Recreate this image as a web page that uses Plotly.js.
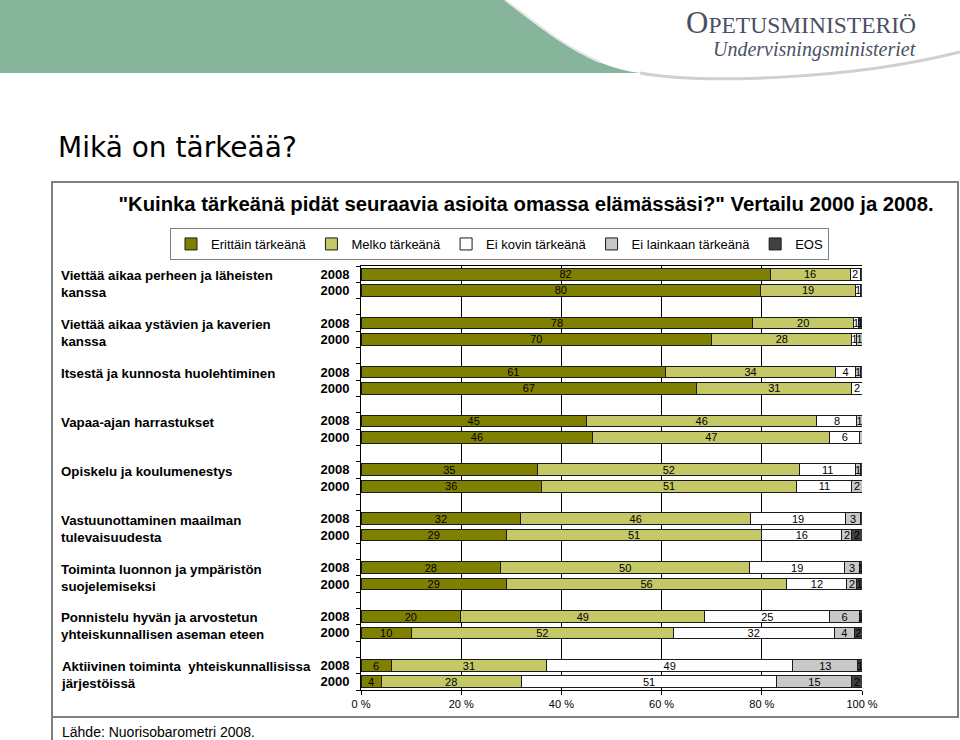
<!DOCTYPE html>
<html>
<head>
<meta charset="utf-8">
<script src="https://cdn.plot.ly/plotly-3.0.1.min.js"></script>
<style>
html,body{margin:0;padding:0;background:#fff;}
#chart{width:960px;height:740px;}
</style>
</head>
<body>
<div id="chart"></div>
<script>
// ---- Data ----
const categories = [
  "Viettää aikaa perheen ja läheisten<br>kanssa",
  "Viettää aikaa ystävien ja kaverien<br>kanssa",
  "Itsestä ja kunnosta huolehtiminen",
  "Vapaa-ajan harrastukset",
  "Opiskelu ja koulumenestys",
  "Vastuunottaminen maailman<br>tulevaisuudesta",
  "Toiminta luonnon ja ympäristön<br>suojelemiseksi",
  "Ponnistelu hyvän ja arvostetun<br>yhteiskunnallisen aseman eteen",
  "Aktiivinen toiminta  yhteiskunnallisissa<br>järjestöissä"
];
const years = ["2008", "2000"];
const seriesNames = ["Erittäin tärkeänä", "Melko tärkeänä", "Ei kovin tärkeänä", "Ei lainkaan tärkeänä", "EOS"];
// values per bar: category order, 2008 then 2000
const erittain   = [82,80, 78,70, 61,67, 45,46, 35,36, 32,29, 28,29, 20,10, 6,4];
const melko      = [16,19, 20,28, 34,31, 46,47, 52,51, 46,51, 50,56, 49,52, 31,28];
const eiKovin    = [2,1, 1,1, 4,2, 8,6, 11,11, 19,16, 19,12, 25,32, 49,51];
const eiLainkaan = [0,0, 0,1, 1,0, 1,0.4, 1,2, 3,2, 3,2, 6,4, 13,15];
const eos        = [0.4,0.3, 0.7,0, 0.3,0, 0,0, 0.3,0, 0.3,2, 0.5,1, 0.5,1.5, 0.8,2];
const xTicks = [0,20,40,60,80,100];
const xTickText = ["0 %","20 %","40 %","60 %","80 %","100 %"];

// ---- Styles ----
const colors = ["#808000", "#c4c866", "#ffffff", "#c8c8c8", "#404040"];
const FONT = "Liberation Sans, Arial, sans-serif";

// bar positions derived from category/year index
const yPos = [], yLabels = [];
categories.forEach((c, g) => years.forEach((yr, i) => { yPos.push(g*3 + i); yLabels.push(yr); }));

const allSeries = [erittain, melko, eiKovin, eiLainkaan, eos];
const traces = allSeries.map((vals, k) => ({
  type: "bar",
  orientation: "h",
  name: seriesNames[k],
  x: vals,
  y: yPos,
  width: 0.72,
  marker: {color: colors[k], line: {color: "#1a1a1a", width: 1}},
  text: vals.map(v => v >= 0.5 ? String(Math.round(v)) : ""),
  textposition: "inside",
  insidetextanchor: "middle",
  constraintext: "none",
  textangle: 0,
  textfont: {family: FONT, size: 11, color: "#000"},
  hoverinfo: "skip"
}));

// pixel helpers for decorative layout pieces (plot area: l=361, t=266, w=501, h=424)
const L = 361, T = 266, W = 501, H = 424;
const px = x => (x - L) / W;
const py = y => (T + H - y) / H;

const annotations = [];
categories.forEach((c, g) => {
  annotations.push({
    xref: "paper", yref: "y", x: px(59), y: g*3 - 0.5,
    xanchor: "left", yanchor: "top", align: "left",
    text: c, showarrow: false,
    font: {family: FONT, size: 13.3, color: "#000", weight: "bold"}
  });
});
annotations.push({
  xref: "paper", yref: "paper", x: px(56), y: py(148), xanchor: "left", yanchor: "middle",
  text: "Mikä on tärkeää?", showarrow: false,
  font: {family: "DejaVu Sans, Verdana, sans-serif", size: 28, color: "#000"}
});
annotations.push({
  xref: "paper", yref: "paper", x: px(60), y: py(732), xanchor: "left", yanchor: "middle",
  text: "Lähde: Nuorisobarometri 2008.", showarrow: false,
  font: {family: FONT, size: 14, color: "#000"}
});
annotations.push({
  xref: "paper", yref: "paper", x: px(918), y: py(22), xanchor: "right", yanchor: "middle",
  text: "<span style='font-size:31px'>O</span>PETUSMINISTERIÖ", showarrow: false,
  font: {family: "Liberation Serif, Times New Roman, serif", size: 23.5, color: "#4a5064"}
});
annotations.push({
  xref: "paper", yref: "paper", x: px(918), y: py(50), xanchor: "right", yanchor: "middle",
  text: "<i>Undervisningsministeriet</i>", showarrow: false,
  font: {family: "Liberation Serif, Times New Roman, serif", size: 20, color: "#4a5064"}
});

const P = (x, y) => px(x) + "," + py(y);
const shapes = [
  // green header band
  {type: "path", xref: "paper", yref: "paper", layer: "below",
   path: "M" + P(0,0) + " L" + P(505,0) + " C" + P(545,30) + " " + P(585,66) + " " + P(640,73) + " L" + P(0,73) + " Z",
   fillcolor: "#86b59c", line: {width: 0}},
  // swoosh shadow line
  {type: "path", xref: "paper", yref: "paper", layer: "below",
   path: "M" + P(640,73) + " C" + P(700,84) + " " + P(850,80) + " " + P(960,52),
   line: {color: "#d0d0d0", width: 3}},
  {type: "path", xref: "paper", yref: "paper", layer: "below",
   path: "M" + P(505,0) + " C" + P(530,18) + " " + P(560,45) + " " + P(600,62),
   line: {color: "#e6e6e6", width: 2}},
  // chart frame
  {type: "rect", xref: "paper", yref: "paper", layer: "below",
   x0: px(52), x1: px(958), y0: py(182), y1: py(717),
   line: {color: "#808080", width: 2}},
  {type: "line", xref: "paper", yref: "paper", layer: "below",
   x0: px(52), x1: px(52), y0: py(717), y1: py(740),
   line: {color: "#808080", width: 2}}
];

const layout = {
  width: 960, height: 740,
  margin: {l: L, r: 960 - L - W, t: T, b: 740 - T - H},
  paper_bgcolor: "#fff", plot_bgcolor: "#fff",
  barmode: "stack",
  barnorm: "percent",
  bargap: 0,
  title: {
    text: "\"Kuinka tärkeänä pidät seuraavia asioita omassa elämässäsi?\" Vertailu 2000 ja 2008.",
    xref: "container", yref: "container", x: 526/960, xanchor: "center",
    y: 1 - 204/740, yanchor: "middle",
    font: {family: FONT, size: 20.3, color: "#000", weight: "bold"}
  },
  xaxis: {
    range: [0, 100], tickmode: "array", tickvals: xTicks, ticktext: xTickText,
    showgrid: true, gridcolor: "#000", gridwidth: 1,
    showline: true, linecolor: "#000", linewidth: 1, mirror: true,
    ticks: "outside", ticklen: 4, tickcolor: "#000",
    tickfont: {family: FONT, size: 11, color: "#000"},
    zeroline: false, fixedrange: true
  },
  yaxis: {
    range: [categories.length*3 - 1.5, -0.5], autorange: false,
    tickmode: "array", tickvals: yPos, ticktext: yLabels,
    ticks: "", showgrid: false, zeroline: false,
    showline: true, linecolor: "#000", linewidth: 1,
    ticklabelstandoff: 8,
    tickfont: {family: FONT, size: 13, color: "#000", weight: "bold"},
    minor: {tickmode: "linear", tick0: -0.5, dtick: 1, ticks: "outside", ticklen: 4, tickcolor: "#000", showgrid: false},
    fixedrange: true
  },
  showlegend: true,
  legend: {
    orientation: "h", traceorder: "normal",
    xref: "paper", yref: "paper",
    x: px(170), xanchor: "left", y: py(228), yanchor: "top",
    bgcolor: "#fff", bordercolor: "#808080", borderwidth: 1,
    font: {family: FONT, size: 13, color: "#000"},
    itemwidth: 30
  },
  annotations: annotations,
  shapes: shapes
};

Plotly.newPlot("chart", traces, layout, {staticPlot: true, displayModeBar: false});
</script>
</body>
</html>
